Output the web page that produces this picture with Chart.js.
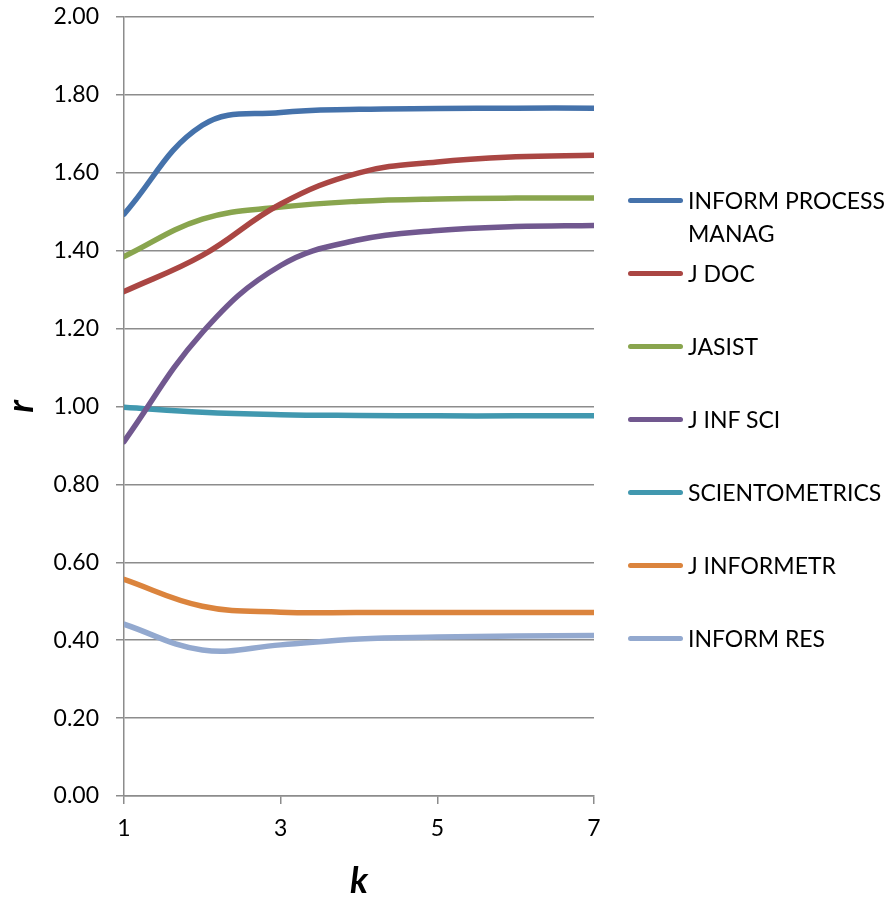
<!DOCTYPE html>
<html lang="en">
<head>
  <meta charset="UTF-8" />
  <title>r versus k</title>
  <script src="https://cdn.jsdelivr.net/npm/chart.js"></script>
  <style>
    * {
      box-sizing: border-box;
    }

    body {
      margin: 0;
      background: #ffffff;
      font-family: Lato, 'Open Sans', sans-serif;
    }

    .wrap {
      position: relative;
      width: 886px;
      height: 899px;
    }

    .legend-item {
      position: absolute;
      left: 628px;
      display: flex;
      align-items: flex-start;
      font-size: 23px;
      line-height: 33px;
      color: #000000;
    }

    .legend-item .swatch {
      width: 55px;
      height: 5px;
      border-radius: 3px;
      margin-top: 14px;
      margin-right: 5px;
      flex: none;
    }

    .legend-item .label {
      width: 198px;
    }
  </style>
</head>
<body>
  <div class="wrap">
    <canvas id="rkChart" width="886" height="899"></canvas>
    <div id="legend"></div>
  </div>

  <script>
    // k values (x axis)
    const kValues = [1, 2, 3, 4, 5, 6, 7];
    const xTickValues = [1, 3, 5, 7];

    const journals = ['INFORM PROCESS MANAG', 'J DOC', 'JASIST', 'J INF SCI', 'SCIENTOMETRICS', 'J INFORMETR', 'INFORM RES'];

    const informProcessManag = [1.494, 1.722, 1.755, 1.763, 1.765, 1.766, 1.766];
    const jDoc = [1.295, 1.388, 1.52, 1.60, 1.628, 1.641, 1.645];
    const jasist = [1.385, 1.481, 1.512, 1.527, 1.533, 1.535, 1.535];
    const jInfSci = [0.91, 1.19, 1.362, 1.428, 1.452, 1.462, 1.465];
    const scientometrics = [0.998, 0.985, 0.979, 0.977, 0.976, 0.976, 0.976];
    const jInformetr = [0.556, 0.487, 0.472, 0.471, 0.471, 0.471, 0.471];
    const informRes = [0.441, 0.375, 0.388, 0.403, 0.408, 0.411, 0.412];

    const seriesValues = [informProcessManag, jDoc, jasist, jInfSci, scientometrics, jInformetr, informRes];
    const seriesColors = ['#4572AB', '#AA4643', '#89A54E', '#71588F', '#4198AF', '#DB843D', '#93A9CF'];

    // legend row centres (px from top)
    const legendRowY = [200, 273, 346, 419, 492, 565, 638];

    const gridColor = '#8c8c8c';

    const datasets = journals.map((name, i) => ({
      label: name,
      data: kValues.map((k, j) => ({ x: k, y: seriesValues[i][j] })),
      borderColor: seriesColors[i],
      backgroundColor: seriesColors[i],
      borderWidth: 5.5,
      borderCapStyle: 'round',
      pointRadius: 0,
      tension: 0.4,
      fill: false,
      order: i
    }));

    Chart.defaults.font.family = "Lato, 'Open Sans', sans-serif";
    Chart.defaults.color = '#000000';

    new Chart(document.getElementById('rkChart'), {
      type: 'line',
      data: { datasets: datasets },
      options: {
        responsive: false,
        animation: false,
        layout: {
          padding: { top: 17, right: 292, left: 0, bottom: 0 }
        },
        plugins: {
          legend: { display: false },
          tooltip: { enabled: false }
        },
        scales: {
          x: {
            type: 'linear',
            min: 1,
            max: 7,
            afterBuildTicks: (scale) => {
              scale.ticks = xTickValues.map(v => ({ value: v }));
            },
            afterFit: (scale) => {
              scale.height = 103;
            },
            ticks: {
              font: { size: 23 },
              padding: 11,
              maxRotation: 0
            },
            grid: {
              drawOnChartArea: false,
              drawTicks: true,
              tickLength: 8,
              color: gridColor,
              lineWidth: 1.5
            },
            border: { color: gridColor, width: 1.5 },
            title: {
              display: true,
              text: 'k',
              font: { size: 36, weight: 'bold', style: 'italic', lineHeight: 1 },
              padding: { top: 0, bottom: 0 }
            }
          },
          y: {
            min: 0,
            max: 2,
            afterFit: (scale) => {
              scale.width = 124;
              // label padding should not push the plot area down
              scale.paddingTop = 0;
              scale.paddingBottom = 0;
            },
            ticks: {
              stepSize: 0.2,
              font: { size: 23 },
              padding: 17,
              callback: (v) => v.toFixed(2)
            },
            grid: {
              color: gridColor,
              lineWidth: 1.5,
              drawTicks: true,
              tickLength: 8
            },
            border: { color: gridColor, width: 1.5 },
            title: {
              display: true,
              text: 'r',
              font: { size: 36, weight: 'bold', style: 'italic', lineHeight: 1 },
              padding: { top: 3, bottom: 0 }
            }
          }
        }
      }
    });

    // legend
    const legendEl = document.getElementById('legend');
    journals.forEach((name, i) => {
      const item = document.createElement('div');
      item.className = 'legend-item';
      item.style.top = (legendRowY[i] - 16.5) + 'px';
      const swatch = document.createElement('span');
      swatch.className = 'swatch';
      swatch.style.background = seriesColors[i];
      const label = document.createElement('span');
      label.className = 'label';
      label.textContent = name;
      item.appendChild(swatch);
      item.appendChild(label);
      legendEl.appendChild(item);
    });
  </script>
</body>
</html>
